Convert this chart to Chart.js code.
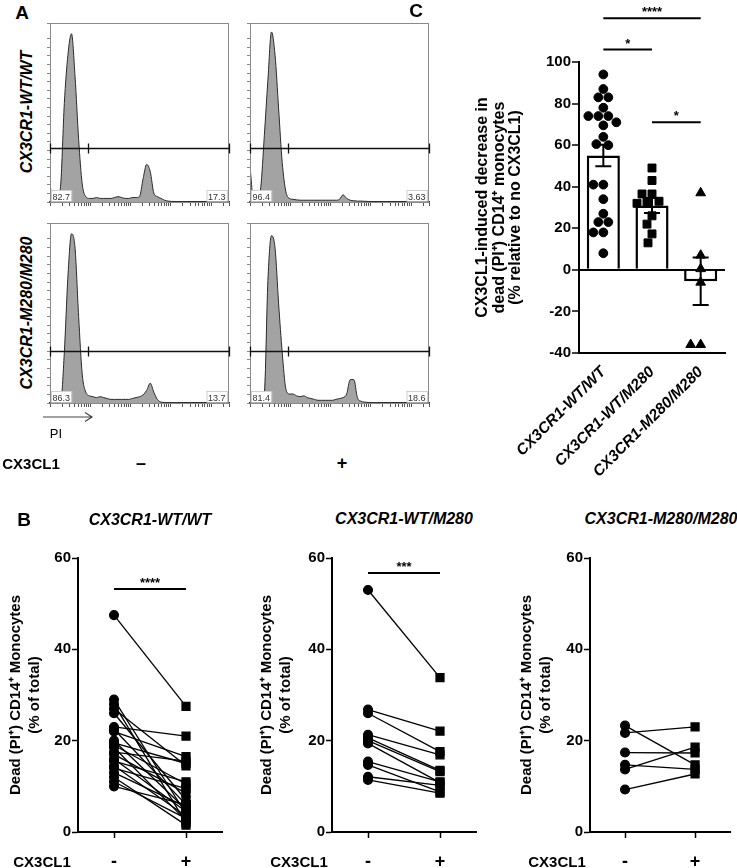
<!DOCTYPE html>
<html>
<head>
<meta charset="utf-8">
<script src="https://cdn.jsdelivr.net/npm/chart.js@4.4.1/dist/chart.umd.min.js"></script>
<style>
  body { margin: 0; width: 737px; height: 868px; position: relative; background: #fff; overflow: hidden;
         font-family: "Liberation Sans", Arial, sans-serif; color: #000; }
  canvas { position: absolute; }
  .lbl { position: absolute; white-space: nowrap; line-height: 1; font-weight: bold; transform: translate(-50%, -50%); }
</style>
</head>
<body>
<canvas id="histTL" width="194" height="194" style="left:40px;top:18px"></canvas>
<canvas id="histTR" width="194" height="194" style="left:240px;top:18px"></canvas>
<canvas id="histBL" width="194" height="195" style="left:40px;top:218px"></canvas>
<canvas id="histBR" width="194" height="195" style="left:240px;top:218px"></canvas>
<canvas id="chartC" width="269" height="480" style="left:468px;top:0px"></canvas>
<canvas id="chartB1" width="232" height="320" style="left:0px;top:548px"></canvas>
<canvas id="chartB2" width="236" height="320" style="left:250px;top:548px"></canvas>
<canvas id="chartB3" width="227" height="320" style="left:510px;top:548px"></canvas>
<svg style="position:absolute;left:42px;top:411px" width="54" height="12">
  <path d="M1 6 H50 M43 1.5 L50 6 L43 10.5" fill="none" stroke="#444" stroke-width="1.2"/>
</svg>
<script>
// ---------------- data ----------------
// Panel A: PI histograms, channel in % of axis, count in % of box height
const histBins = [0,2,4,6,8,10,12,14,16,18,20,22,24,26,28,30,32,34,36,38,40,42,44,46,48,50,
                  52,54,56,58,60,62,64,66,68,70,72,74,76,78,80,82,84,86,88,90,92,94,96,98,100];
const histWtNo  = [9,1,1.5,10,55,82,94,70,35,10,3,2,2,2.5,2,2,2,2,2.5,3,2.5,2,2,2.5,2.5,3,
                   13,21,17,5,3,2,1,0.5,0.3,0.3,0,0,0,0,0,0,0,0,0,0,0,0,0,0,0];
const histWtCx  = [20,1,1,8,37,68,95,82,52,22,6,2,1.5,1.2,1,1,1,1,1,1,1,1,1,1,1,1.5,
                   4,2,1,0.7,0.5,0.5,0.4,0.3,0.3,0.2,0,0,0,0,0,0,0,0,0,0,0,0,0,0,0];
const histMutNo = [2,0.5,0.5,1,28,70,94,86,48,16,6,4,3.5,3,3.5,3,2.5,2,2,2,2,2,2,2.5,3,3.5,
                   4.5,7,11,6,2,0.5,0.3,0.2,0.2,0.1,0,0,0,0,0,0,0,0,0,0,0,0,0,0,0];
const histMutCx = [1,0.5,0.5,0.5,5,68,93,86,55,28,8,5,5,4,3.5,4,3,2.5,2,1.5,1.5,1.5,1.5,1.5,2,2.5,
                   3,5,13,13,3,1,0.5,0.3,0.2,0.1,0,0,0,0,0,0,0,0,0,0,0,0,0,0,0];
const gateCuts = [0, 21.5, 100];
const gateLevel = [30, 30, 29, 29];
const gatePct = [['82.7', '17.3'], ['96.4', '3.63'], ['86.3', '13.7'], ['81.4', '18.6']];

// Panel C: CX3CL1-induced decrease (% relative to no CX3CL1)
const groupLabels = ['CX3CR1-WT/WT', 'CX3CR1-WT/M280', 'CX3CR1-M280/M280'];
const decWT  = [94, 87, 83, 83, 78, 74, 74, 74, 71, 69.5, 64, 60.5, 60, 41, 41, 34, 27, 23, 23, 18, 18, 8];
const decHet = [49, 43, 36.5, 36.5, 33, 32.5, 32, 26, 22, 17.3, 13];
const decHom = [37, 7, 0.5, -6, -36, -36];
const barMean = [55, 31, -5.5];
const barSem = [5.2, 3.6, 11.4];
const sigC = [
  { from: 0, to: 2, y: 121, label: '****' },
  { from: 0, to: 1, y: 106, label: '*' },
  { from: 1, to: 2, y: 71, label: '*' }
];

// Panel B: dead (PI+) CD14+ monocytes, % of total, without / with CX3CL1
const cx3cl1Labels = ['-', '+'];
const wtPre  = [47.5, 29, 28, 27, 26, 23, 22.5, 22, 20, 19.5, 19, 18.5, 17.5, 17, 16, 15.5, 14.5, 14, 13, 12, 11, 10];
const wtPost = [27.5, 4, 2, 14.5, 7, 21, 6, 16.5, 5, 15, 10.5, 2.5, 15.5, 8.5, 4.5, 11, 3.5, 9.5, 5.5, 1.5, 3, 6];
const hetPre  = [53, 26.8, 26, 21.3, 20.6, 20, 19.4, 15.4, 14.7, 12.1, 11.4];
const hetPost = [33.8, 22.1, 17.6, 16.9, 13.5, 13.2, 10.8, 11, 8.8, 10.2, 8.5];
const homPre  = [23.3, 21.7, 17.4, 14.7, 13.7, 9.3];
const homPost = [14.7, 23, 17.3, 13.7, 18.6, 12.7];
const sigB = [[{ from: 0, to: 1, y: 53.2, label: '****' }], [{ from: 0, to: 1, y: 56.7, label: '***' }], []];

// ---------------- helpers ----------------
const FONT = '"Liberation Sans", Arial, sans-serif';
Chart.defaults.font.family = FONT;
Chart.defaults.color = '#000';

function addText(text, x, y, size, opts = {}) {
  const d = document.createElement('div');
  d.className = 'lbl';
  d.textContent = text;
  d.style.left = x + 'px';
  d.style.top = y + 'px';
  d.style.fontSize = size + 'px';
  if (opts.italic) d.style.fontStyle = 'italic';
  if (opts.normal) d.style.fontWeight = 'normal';
  if (opts.rotate) d.style.transform = 'translate(-50%, -50%) rotate(-90deg)';
  document.body.appendChild(d);
}

// log-decade tick marks for the PI axis
function logTicks() {
  const out = [];
  for (let d = 0; d < 100; d += 22.5)
    for (let k = 1; k < 10; k++) {
      const v = d + 22.5 * Math.log10(k);
      if (v <= 100) out.push({ value: v });
    }
  out.push({ value: 100 });
  return out;
}

// box, gate and percentages of the flow histograms
const gatePlugin = {
  id: 'gate',
  afterDraw(chart, args, opts) {
    const { ctx, chartArea: a, scales: { x, y } } = chart;
    ctx.save();
    ctx.strokeStyle = '#8a8a8a';
    ctx.lineWidth = 1;
    ctx.strokeRect(a.left + 0.5, a.top + 0.5, a.width - 1, a.height);
    const gy = Math.round(y.getPixelForValue(opts.level)) + 0.5;
    ctx.strokeStyle = '#111';
    ctx.lineWidth = 1.3;
    ctx.beginPath();
    ctx.moveTo(x.getPixelForValue(opts.cuts[0]), gy);
    ctx.lineTo(x.getPixelForValue(opts.cuts[opts.cuts.length - 1]), gy);
    opts.cuts.forEach(c => {
      const px = Math.round(x.getPixelForValue(c)) + 0.5;
      ctx.moveTo(px, gy - 5);
      ctx.lineTo(px, gy + 5);
    });
    ctx.stroke();
    ctx.font = '9px ' + FONT;
    ctx.textBaseline = 'alphabetic';
    opts.pct.forEach((t, i) => {
      const w = ctx.measureText(t).width + 3;
      const bx = i === 0 ? a.left + 1 : a.right - w - 2;
      const by = a.bottom - 12;
      ctx.fillStyle = '#fff';
      ctx.fillRect(bx, by, w, 11);
      ctx.strokeStyle = '#c4c4c4';
      ctx.lineWidth = 0.8;
      ctx.strokeRect(bx + 0.5, by + 0.5, w, 11);
      ctx.fillStyle = '#333';
      ctx.fillText(t, bx + 1.5, by + 9.5);
    });
    ctx.restore();
  }
};

function histChart(id, counts, idx) {
  return new Chart(document.getElementById(id), {
    type: 'line',
    data: {
      labels: histBins,
      datasets: [{
        data: counts,
        fill: 'origin',
        backgroundColor: '#a3a3a3',
        borderColor: '#2b2b2b',
        borderWidth: 1,
        pointRadius: 0,
        cubicInterpolationMode: 'monotone'
      }]
    },
    options: {
      responsive: false, animation: false, events: [], devicePixelRatio: 1,
      layout: { padding: { left: 5, top: 5, right: 5, bottom: 5 } },
      plugins: {
        legend: { display: false }, tooltip: { enabled: false },
        gate: { level: gateLevel[idx], cuts: gateCuts, pct: gatePct[idx] }
      },
      scales: {
        x: {
          type: 'linear', min: 0, max: 100,
          afterBuildTicks: s => { s.ticks = logTicks(); },
          ticks: { display: false },
          grid: { drawOnChartArea: false, tickLength: 4, tickColor: '#555', tickWidth: 1 },
          border: { color: '#333', width: 1.5 },
          afterFit: s => { s.height = 5; }
        },
        y: {
          min: 0, max: 100,
          ticks: { display: false, stepSize: 4.8 },
          grid: { drawOnChartArea: false, tickLength: 3, tickColor: '#888', tickWidth: 1 },
          border: { color: '#8a8a8a', width: 1 },
          afterFit: s => { s.width = 5; }
        }
      }
    },
    plugins: [gatePlugin]
  });
}

// significance brackets, placed in data units
const sigPlugin = {
  id: 'sig',
  afterDraw(chart, args, opts) {
    const { ctx, scales: { x, y } } = chart;
    ctx.save();
    ctx.strokeStyle = '#000';
    ctx.fillStyle = '#000';
    ctx.lineWidth = 2;
    ctx.font = 'bold 13px ' + FONT;
    ctx.textAlign = 'center';
    ctx.textBaseline = 'alphabetic';
    opts.items.forEach(s => {
      const x1 = x.getPixelForValue(s.from), x2 = x.getPixelForValue(s.to);
      const py = y.getPixelForValue(s.y);
      ctx.beginPath();
      ctx.moveTo(x1, py);
      ctx.lineTo(x2, py);
      ctx.stroke();
      ctx.fillText(s.label, (x1 + x2) / 2, py - 2);
    });
    ctx.restore();
  }
};

// mean +/- SEM whiskers
const errPlugin = {
  id: 'err',
  afterDatasetsDraw(chart, args, opts) {
    const { ctx, scales: { x, y } } = chart;
    ctx.save();
    ctx.strokeStyle = '#000';
    ctx.lineWidth = 2;
    opts.mean.forEach((m, i) => {
      const px = x.getPixelForValue(i);
      const t = y.getPixelForValue(m + opts.sem[i]);
      const b = y.getPixelForValue(m - opts.sem[i]);
      ctx.beginPath();
      ctx.moveTo(px, t); ctx.lineTo(px, b);
      ctx.moveTo(px - 8, t); ctx.lineTo(px + 8, t);
      ctx.moveTo(px - 8, b); ctx.lineTo(px + 8, b);
      ctx.stroke();
    });
    ctx.restore();
  }
};

// simple beeswarm: spread points sideways so markers do not overlap
// (x is a fractional category index, used unparsed)
function swarm(values, group) {
  const pxX = 48.7, pxY = 2.08, d = 9.5;
  const placed = [];
  const order = values.map((v, i) => i).sort((a, b) => values[b] - values[a]);
  const out = [];
  order.forEach(i => {
    const yp = values[i] * pxY;
    const cands = [0];
    for (let s = 1; s <= 30; s++) cands.push(-s, s);
    const off = cands.find(c => placed.every(p => Math.hypot(c - p.off, yp - p.yp) >= d));
    placed.push({ off, yp });
    out.push({ x: group + off / pxX, y: values[i] });
  });
  return out.sort((a, b) => a.x - b.x);
}

// ---------------- panel A ----------------
histChart('histTL', histWtNo, 0);
histChart('histTR', histWtCx, 1);
histChart('histBL', histMutNo, 2);
histChart('histBR', histMutCx, 3);

// ---------------- panel C ----------------
const dotBase = { type: 'scatter', parsing: false, backgroundColor: '#000', borderColor: '#000', order: 0 };
new Chart(document.getElementById('chartC'), {
  type: 'bar',
  data: {
    labels: groupLabels,
    datasets: [
      { ...dotBase, data: swarm(decWT, 0), pointStyle: 'circle', pointRadius: 4.4 },
      { ...dotBase, data: swarm(decHet, 1), pointStyle: 'rect', pointRadius: 5.6 },
      { ...dotBase, data: swarm(decHom, 2), pointStyle: 'triangle', pointRadius: 5.6 },
      { type: 'bar', data: barMean, backgroundColor: '#fff', borderColor: '#000', borderWidth: 2.5,
        grouped: false, barPercentage: 0.68, categoryPercentage: 1, order: 2 }
    ]
  },
  options: {
    responsive: false, animation: false, events: [], devicePixelRatio: 1,
    layout: { padding: { left: 0, top: 62, right: 12, bottom: 0 } },
    plugins: {
      legend: { display: false }, tooltip: { enabled: false },
      sig: { items: sigC },
      err: { mean: barMean, sem: barSem }
    },
    scales: {
      x: {
        grid: { display: false },
        border: { display: true, color: '#000', width: 2 },
        ticks: { minRotation: 45, maxRotation: 45, padding: 2, color: '#000',
                 font: { size: 15.5, weight: 'bold', style: 'italic' } },
        afterFit: s => { s.height = 127; }
      },
      y: {
        min: -40, max: 100,
        ticks: { stepSize: 20, padding: 1, color: '#000', font: { size: 15, weight: 'bold' } },
        grid: { color: c => (c.tick && c.tick.value === 0 ? '#000' : 'rgba(0,0,0,0)'), lineWidth: 2,
                tickColor: '#000', tickLength: 7, tickWidth: 1.5 },
        border: { color: '#000', width: 2 },
        title: {
          display: true,
          text: ['CX3CL1-induced decrease in', 'dead (PI\u207A) CD14\u207A monocytes', '(% relative to no CX3CL1)'],
          font: { size: 16, weight: 'bold', lineHeight: 1.03 },
          padding: { top: 6.5, bottom: 0 }
        },
        afterFit: s => { s.width = 111; }
      }
    }
  },
  plugins: [errPlugin, sigPlugin]
});

// ---------------- panel B ----------------
function pairChart(id, pre, post, sig, yWidth, padRight, titlePad) {
  const datasets = pre.map((v, i) => ({
    data: [v, post[i]],
    borderColor: '#000',
    borderWidth: 1.3,
    pointStyle: ['circle', 'rect'],
    pointRadius: [4.4, 5.6],
    pointBackgroundColor: '#000',
    pointBorderColor: '#000'
  }));
  return new Chart(document.getElementById(id), {
    type: 'line',
    data: { labels: cx3cl1Labels, datasets },
    options: {
      responsive: false, animation: false, events: [], devicePixelRatio: 1,
      layout: { padding: { left: 0, top: 10, right: padRight, bottom: 0 } },
      plugins: { legend: { display: false }, tooltip: { enabled: false }, sig: { items: sig } },
      scales: {
        x: {
          offset: true,
          grid: { drawOnChartArea: false, offset: false, tickLength: 6, tickColor: '#000', tickWidth: 1.5 },
          border: { color: '#000', width: 2 },
          ticks: { padding: 13, color: '#000', font: { size: 18, weight: 'bold' } },
          afterFit: s => { s.height = 36; }
        },
        y: {
          min: 0, max: 60,
          ticks: { stepSize: 20, padding: 1, color: '#000', font: { size: 15, weight: 'bold' } },
          grid: { drawOnChartArea: false, tickLength: 6, tickColor: '#000', tickWidth: 1.5 },
          border: { color: '#000', width: 2 },
          title: {
            display: true,
            text: ['Dead (PI\u207A) CD14\u207A Monocytes', '(% of total)'],
            font: { size: 15, weight: 'bold', lineHeight: 1.3 },
            padding: { top: titlePad, bottom: 0 }
          },
          afterFit: s => { s.width = yWidth; }
        }
      }
    },
    plugins: [sigPlugin]
  });
}
pairChart('chartB1', wtPre, wtPost, sigB[0], 78, 10, 6);
pairChart('chartB2', hetPre, hetPost, sigB[1], 82, 10, 7);
pairChart('chartB3', homPre, homPost, sigB[2], 80, 4, 7);

// ---------------- free text ----------------
addText('A', 22, 12, 19);
addText('B', 24, 519, 19);
addText('C', 416, 10, 19);
addText('CX3CR1-WT/WT', 27, 112, 16, { italic: true, rotate: true });
addText('CX3CR1-M280/M280', 27, 313, 16, { italic: true, rotate: true });
addText('PI', 56, 433, 13, { normal: true });
addText('CX3CL1', 31, 463, 15);
addText('\u2013', 141, 463, 18);
addText('+', 342, 463, 18);
addText('CX3CR1-WT/WT', 150, 520, 16, { italic: true });
addText('CX3CR1-WT/M280', 404, 519, 16, { italic: true });
addText('CX3CR1-M280/M280', 661, 519, 16, { italic: true });
addText('CX3CL1', 42, 861, 15);
addText('CX3CL1', 299, 861, 15);
addText('CX3CL1', 557, 861, 15);
</script>
</body>
</html>
